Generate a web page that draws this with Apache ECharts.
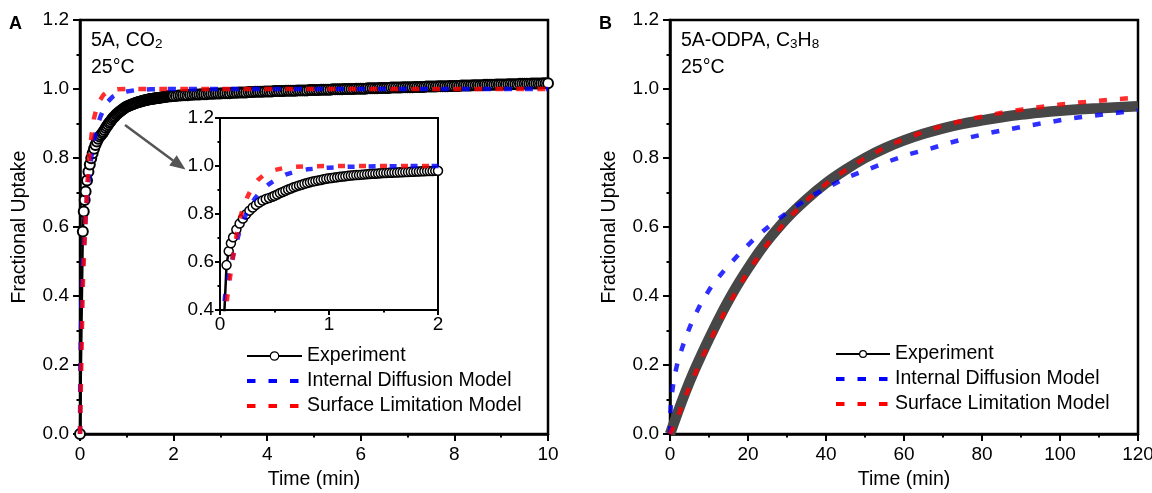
<!DOCTYPE html>
<html><head><meta charset="utf-8">
<script src="https://cdn.jsdelivr.net/npm/echarts@6/dist/echarts.min.js"></script>
<style>html,body{margin:0;padding:0;background:#fff}#c{width:1152px;height:493px}</style>
</head><body><div id="c"></div>
<script>
// ---------------- Panel A (5A, CO2) ----------------
const expA_t = [0,0.06,0.08,0.10,0.12,0.15,0.18,0.21,0.24,0.27,0.30,0.33,0.36,0.39,0.42,0.45,0.48,0.50,
0.525,0.55,0.575,0.6,0.625,0.65,0.675,0.7,0.725,0.75,0.775,0.8,0.825,0.85,0.875,0.9,0.925,0.95,0.975,1,
1.025,1.05,1.075,1.1,1.125,1.15,1.175,1.2,1.225,1.25,1.275,1.3,1.325,1.35,1.375,1.4,1.425,1.45,1.475,1.5,
1.525,1.55,1.575,1.6,1.625,1.65,1.675,1.7,1.725,1.75,1.775,1.8,1.825,1.85,1.875,1.9,1.925,1.95,1.975,2,
2.05,2.1,2.15,2.2,2.25,2.3,2.35,2.4,2.45,2.5,
2.55,2.6,2.65,2.7,2.75,2.8,2.85,2.9,2.95,3,
3.05,3.1,3.15,3.2,3.25,3.3,3.35,3.4,3.45,3.5,
3.55,3.6,3.65,3.7,3.75,3.8,3.85,3.9,3.95,4,
4.05,4.1,4.15,4.2,4.25,4.3,4.35,4.4,4.45,4.5,
4.55,4.6,4.65,4.7,4.75,4.8,4.85,4.9,4.95,5,
5.05,5.1,5.15,5.2,5.25,5.3,5.35,5.4,5.45,5.5,
5.55,5.6,5.65,5.7,5.75,5.8,5.85,5.9,5.95,6,
6.05,6.1,6.15,6.2,6.25,6.3,6.35,6.4,6.45,6.5,
6.55,6.6,6.65,6.7,6.75,6.8,6.85,6.9,6.95,7,
7.05,7.1,7.15,7.2,7.25,7.3,7.35,7.4,7.45,7.5,
7.55,7.6,7.65,7.7,7.75,7.8,7.85,7.9,7.95,8,
8.05,8.1,8.15,8.2,8.25,8.3,8.35,8.4,8.45,8.5,
8.55,8.6,8.65,8.7,8.75,8.8,8.85,8.9,8.95,9,
9.05,9.1,9.15,9.2,9.25,9.3,9.35,9.4,9.45,9.5,
9.55,9.6,9.65,9.7,9.75,9.8,9.85,9.9,9.95,10];
const expA_y = [0,0.587,0.645,0.678,0.703,0.735,0.760,0.781,0.799,0.814,0.827,0.838,0.848,0.856,0.862,0.867,0.872,0.876,
0.881,0.887,0.892,0.897,0.902,0.906,0.911,0.915,0.919,0.922,0.926,0.929,0.932,0.935,0.937,0.940,0.942,0.945,0.947,0.949,
0.950,0.952,0.953,0.955,0.956,0.957,0.959,0.960,0.961,0.962,0.963,0.964,0.965,0.966,0.967,0.968,0.968,0.969,0.970,0.971,
0.971,0.972,0.972,0.973,0.973,0.974,0.974,0.975,0.975,0.976,0.976,0.977,0.977,0.978,0.978,0.979,0.979,0.979,0.980,0.980,
0.980,0.981,0.981,0.982,0.982,0.982,0.983,0.983,0.984,0.984,
0.984,0.985,0.985,0.985,0.986,0.986,0.986,0.987,0.987,0.987,
0.988,0.988,0.988,0.988,0.989,0.989,0.989,0.990,0.990,0.990,
0.990,0.991,0.991,0.991,0.992,0.992,0.992,0.992,0.993,0.993,
0.993,0.993,0.994,0.994,0.994,0.994,0.994,0.995,0.995,0.995,
0.995,0.995,0.996,0.996,0.996,0.996,0.996,0.997,0.997,0.997,
0.997,0.997,0.998,0.998,0.998,0.998,0.998,0.999,0.999,0.999,
0.999,0.999,1.000,1.000,1.000,1.000,1.000,1.001,1.001,1.001,
1.001,1.001,1.002,1.002,1.002,1.002,1.002,1.003,1.003,1.003,
1.003,1.003,1.004,1.004,1.004,1.004,1.004,1.005,1.005,1.005,
1.005,1.005,1.006,1.006,1.006,1.006,1.006,1.007,1.007,1.007,
1.007,1.007,1.008,1.008,1.008,1.008,1.008,1.009,1.009,1.009,
1.009,1.009,1.010,1.010,1.010,1.010,1.010,1.011,1.011,1.011,
1.011,1.011,1.012,1.012,1.012,1.012,1.012,1.013,1.013,1.013,
1.013,1.013,1.014,1.014,1.014,1.014,1.014,1.015,1.015,1.015,
1.015,1.015,1.016,1.016,1.016,1.016,1.016,1.017,1.017,1.017];

const diffA_t = [0,0.005,0.01,0.02,0.03,0.046,0.06,0.08,0.10,0.12,0.14,0.17,0.20,0.23,0.27,0.32,0.38,0.44,0.50,0.60,0.70,0.80,0.90,1.00,1.20,1.50,2.00,3,4,6,8,10];
const diffA_y = [0,0.15,0.21,0.30,0.365,0.456,0.495,0.54,0.585,0.625,0.662,0.713,0.755,0.79,0.83,0.865,0.897,0.921,0.94,0.964,0.978,0.986,0.990,0.993,0.997,0.999,1.0,1.0,1.0,1.0,1.0,1.0];

const surfA_t = [0,0.02,0.04,0.06,0.08,0.10,0.12,0.14,0.16,0.18,0.20,0.25,0.30,0.35,0.40,0.50,0.60,0.70,0.80,1.00,2,4,6,8,10];
const surfA_y = [0,0.15,0.29,0.43,0.50,0.56,0.625,0.68,0.73,0.775,0.808,0.87,0.915,0.943,0.962,0.983,0.993,0.997,0.999,1.0,1.0,1.0,1.0,1.0,1.0];

// ---------------- Panel B (5A-ODPA, C3H8) ----------------
const expB_t = [0,2,4,6,8,10,12,14,16,18,20,23,26,30,35,40,45,50,55,60,65,70,75,80,85,90,95,100,105,110,115,120];
const expB_y = [0,0.063,0.123,0.178,0.228,0.276,0.322,0.366,0.407,0.445,0.48,0.53,0.574,0.626,0.68,0.727,0.766,0.8,0.828,0.851,0.87,0.886,0.899,0.909,0.918,0.926,0.932,0.937,0.941,0.944,0.947,0.95];

const diffB_t = [0,0.1,0.3,1,2,4,6,8,11,14.5,18,22,26,31,36,41,45,51,56,61,67,72,77,82,92,103,114,120];
const diffB_y = [0,0.06,0.1,0.16,0.21,0.28,0.335,0.38,0.435,0.482,0.525,0.57,0.608,0.65,0.688,0.718,0.742,0.768,0.79,0.81,0.828,0.845,0.86,0.873,0.894,0.915,0.93,0.938];

const surfB_t = [0,2,4,6,8,10,12,14,16,18,20,23,26,30,35,40,45,50,55,60,65,70,75,80,85,90,95,100,105,110,115,120];
const surfB_y = [0,0.05,0.11,0.163,0.215,0.263,0.31,0.353,0.394,0.433,0.47,0.52,0.566,0.62,0.677,0.725,0.765,0.8,0.83,0.855,0.876,0.894,0.908,0.92,0.931,0.94,0.948,0.955,0.961,0.966,0.971,0.975];

const seriesNames = ['Experiment','Internal Diffusion Model','Surface Limitation Model'];

// ---------------- chart ----------------
const FONT = '"Liberation Sans", Arial, Helvetica, sans-serif';
const pairs = (xs, ys) => xs.map((x, i) => [x, ys[i]]);
const BLUE = '#0000ff', RED = '#ff0000';

function mkX(grid, min, max, interval, named, tickLen, labelMargin) {
  return {
    type: 'value', gridIndex: grid, min: min, max: max, interval: interval,
    name: named ? 'Time (min)' : '', nameLocation: 'middle', nameGap: 36, nameMoveOverlap: false,
    nameTextStyle: {fontSize: 19.5, color: '#000', fontFamily: FONT},
    axisLine: {show: true, onZero: false, lineStyle: {color: '#000', width: named ? 2.5 : 2}},
    axisTick: {show: true, inside: false, length: tickLen, lineStyle: {color: '#000', width: 2}},
    minorTick: {show: true, splitNumber: 2, length: tickLen / 2, lineStyle: {color: '#000', width: 2}},
    splitLine: {show: false}, minorSplitLine: {show: false},
    axisLabel: {color: '#000', fontSize: 19, fontFamily: FONT, margin: labelMargin}
  };
}
function mkY(grid, min, max, named, tickLen, labelMargin) {
  return {
    type: 'value', gridIndex: grid, min: min, max: max, interval: 0.2,
    name: named ? 'Fractional Uptake' : '', nameLocation: 'middle', nameGap: 50, nameMoveOverlap: false,
    nameTextStyle: {fontSize: 19.5, color: '#000', fontFamily: FONT},
    axisLine: {show: true, onZero: false, lineStyle: {color: '#000', width: named ? 2.5 : 2}},
    axisTick: {show: true, inside: false, length: tickLen, lineStyle: {color: '#000', width: 2}},
    minorTick: {show: true, splitNumber: 2, length: tickLen / 2, lineStyle: {color: '#000', width: 2}},
    splitLine: {show: false}, minorSplitLine: {show: false},
    axisLabel: {color: '#000', fontSize: 19, fontFamily: FONT, margin: labelMargin, formatter: v => v.toFixed(1)}
  };
}
function expSeries(ax, data, size, bw) {
  return {
    name: seriesNames[0], type: 'line', xAxisIndex: ax, yAxisIndex: ax, data: data,
    symbol: 'circle', symbolSize: size, showSymbol: true, showAllSymbol: true,
    lineStyle: {color: '#000', width: 2.5},
    itemStyle: {color: '#fff', borderColor: '#000', borderWidth: bw},
    z: 3, clip: true, silent: true
  };
}
function dashSeries(idx, ax, data, color, dash, width) {
  return {
    name: seriesNames[idx], type: 'line', xAxisIndex: ax, yAxisIndex: ax, data: data,
    symbol: 'none', color: color,
    lineStyle: {color: color, width: width, type: dash, opacity: 0.82, cap: 'butt'},
    z: 3 + idx, clip: true, silent: true
  };
}
function mkLegend(left, top, w, h) {
  return {
    orient: 'vertical', left: left, top: top, padding: 0, itemWidth: w, itemHeight: h, itemGap: 5,
    selectedMode: false,
    textStyle: {fontSize: 19.5, color: '#000', fontFamily: FONT, lineHeight: 20},
    data: [
      {name: seriesNames[0], itemStyle: {color: '#fff', borderColor: '#000', borderWidth: 1.2, opacity: 1},
       lineStyle: {color: '#000', width: 2, type: 'solid', opacity: 1}},
      {name: seriesNames[1], itemStyle: {opacity: 0}, lineStyle: {color: BLUE, width: 4, type: [8.5, 13], opacity: 1}},
      {name: seriesNames[2], itemStyle: {opacity: 0}, lineStyle: {color: RED, width: 4, type: [8.5, 13], opacity: 1}}
    ]
  };
}

const chart = echarts.init(document.getElementById('c'), null, {renderer: 'canvas'});
const textBase = {fontSize: 19.5, color: '#000', fontFamily: FONT, fontWeight: 'normal'};
const rich = {
  n: {fontSize: 19.5, fontFamily: FONT, fontWeight: 'normal', color: '#000', lineHeight: 24, verticalAlign: 'top', padding: [0, 0, 8, 0]},
  s: {fontSize: 13.5, fontFamily: FONT, fontWeight: 'normal', color: '#000', lineHeight: 24, verticalAlign: 'top', padding: [6, 0, 0, 0]}
};
chart.setOption({
  animation: false,
  backgroundColor: '#fff',
  textStyle: {fontFamily: FONT},
  title: [
    {text: 'A', left: 9, top: 15, padding: 0, textStyle: {fontSize: 18, fontWeight: 'bold', color: '#000', fontFamily: FONT}},
    {text: '{n|5A, CO}{s|2}', left: 91, top: 31, padding: 0, textStyle: {fontWeight: 'normal', rich: rich}},
    {text: '25°C', left: 91, top: 58, padding: 0, textStyle: textBase},
    {text: 'B', left: 599, top: 15, padding: 0, textStyle: {fontSize: 18, fontWeight: 'bold', color: '#000', fontFamily: FONT}},
    {text: '{n|5A-ODPA, C}{s|3}{n|H}{s|8}', left: 681, top: 31, padding: 0, textStyle: {fontWeight: 'normal', rich: rich}},
    {text: '25°C', left: 681, top: 58, padding: 0, textStyle: textBase}
  ],
  grid: [
    {left: 80, top: 20, width: 468, height: 414, show: true, borderColor: '#000', borderWidth: 2.5, backgroundColor: 'transparent', outerBoundsMode: 'none', containLabel: false},
    {left: 220, top: 118, width: 218, height: 192, show: true, borderColor: '#000', borderWidth: 2, backgroundColor: '#fff', outerBoundsMode: 'none', containLabel: false},
    {left: 670, top: 20, width: 468, height: 414, show: true, borderColor: '#000', borderWidth: 2.5, backgroundColor: 'transparent', outerBoundsMode: 'none', containLabel: false}
  ],
  xAxis: [mkX(0, 0, 10, 2, true, 7, 11), mkX(1, 0, 2, 1, false, 5, 5), mkX(2, 0, 120, 20, true, 7, 11)],
  yAxis: [mkY(0, 0, 1.2, true, 7, 11), mkY(1, 0.4, 1.2, false, 5, 6), mkY(2, 0, 1.2, true, 7, 11)],
  legend: [mkLegend(245, 346, 55, 10.5), mkLegend(834, 344, 54, 8.5)],
  graphic: [
    {type: 'line', shape: {x1: 125, y1: 125, x2: 173, y2: 160.5}, style: {stroke: '#555', lineWidth: 2.5}, z: 10},
    {type: 'polygon', shape: {points: [[185.5, 169.5], [176.7, 155.2], [169.2, 165.5]]}, style: {fill: '#555'}, z: 10}
  ],
  series: [
    expSeries(0, pairs(expA_t, expA_y), 10, 2),
    dashSeries(1, 0, pairs(diffA_t, diffA_y), BLUE, [8, 13], 4.5),
    dashSeries(2, 0, pairs(surfA_t, surfA_y), RED, [8, 13], 4.5),
    expSeries(1, pairs(expA_t, expA_y), 9, 1.5),
    dashSeries(1, 1, pairs(diffA_t, diffA_y), BLUE, [7, 14], 4.5),
    dashSeries(2, 1, pairs(surfA_t, surfA_y), RED, [7, 14], 4.5),
    {name: seriesNames[0], type: 'line', xAxisIndex: 2, yAxisIndex: 2, data: pairs(expB_t, expB_y),
     symbol: 'circle', showSymbol: false, smooth: 0.3, color: '#000',
     lineStyle: {color: '#474747', width: 10.5, cap: 'butt'}, z: 3, clip: true, silent: true},
    dashSeries(1, 2, pairs(diffB_t, diffB_y), BLUE, [8, 13], 4.5),
    dashSeries(2, 2, pairs(surfB_t, surfB_y), RED, [8, 13], 4.5)
  ]
});
</script></body></html>
